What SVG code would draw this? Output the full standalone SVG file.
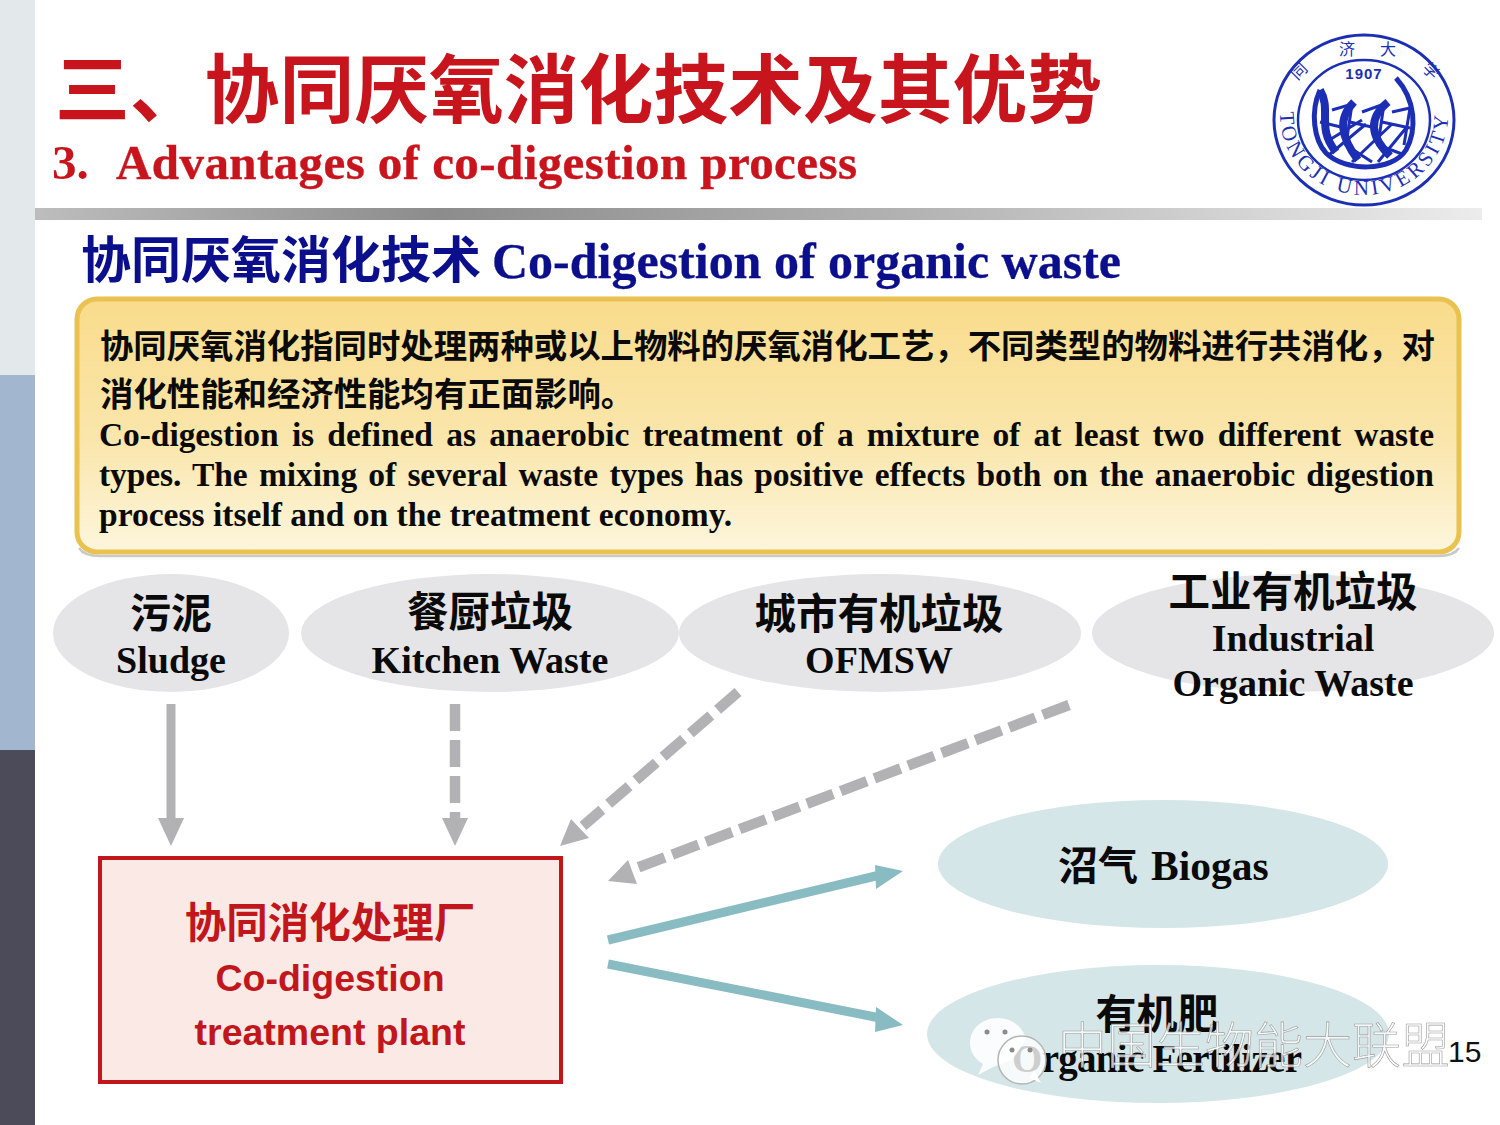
<svg xmlns="http://www.w3.org/2000/svg" xmlns:xlink="http://www.w3.org/1999/xlink" width="1500" height="1125" viewBox="0 0 1500 1125">
<style>
.zh{font-family:"Noto Sans CJK SC","Liberation Sans",sans-serif;font-weight:700}
.en{font-family:"Liberation Serif","Noto Sans CJK SC",serif;font-weight:700}
.sa{font-family:"Liberation Sans","Noto Sans CJK SC",sans-serif;font-weight:700}
.k{fill:#0a0a0a}
.m{text-anchor:middle}
.body{font-size:33.4px}
.ben{font-size:33.5px}
.lab{font-size:38px}
.gd{fill:none;stroke:#b2b1b4;stroke-width:10.5}
.gh{fill:#b2b1b4}
.tl{fill:none;stroke:#88bcc2;stroke-width:9}
.th{fill:#88bcc2}
.logo{fill:none;stroke:#1c2fb4}
.lt{font-family:"Liberation Serif",serif;fill:#1c2fb4;font-size:21px;letter-spacing:3.4px}
</style>
<defs>
<linearGradient id="bar" x1="0" x2="1" y1="0" y2="0"><stop offset="0" stop-color="#bdbdbd"/><stop offset="0.28" stop-color="#8c8c8c"/><stop offset="0.6" stop-color="#b2b2b2"/><stop offset="1" stop-color="#ececec"/></linearGradient>
<linearGradient id="box" x1="0" x2="0" y1="0" y2="1"><stop offset="0" stop-color="#f9dc8c"/><stop offset="0.55" stop-color="#fae6ab"/><stop offset="1" stop-color="#fdf6dd"/></linearGradient>
<path id="arc" d="M1280 115A84 80 0 0 0 1448 115"/>
</defs>
<rect width="1500" height="1125" fill="#fff"/>
<g id="sidebar">
<rect x="0" y="0" width="35" height="375" fill="#e3e8eb"/>
<rect x="0" y="375" width="35" height="375" fill="#a3b6d0"/>
<rect x="0" y="750" width="35" height="375" fill="#4b4b59"/>
</g>
<g id="header">
<text class="zh" x="55" y="117" font-size="74.8" fill="#c8151d">三、协同厌氧消化技术及其优势</text>
<text class="en" x="52" y="179" font-size="49" fill="#c8151d">3.</text>
<text class="en" x="116" y="179" font-size="49" fill="#c8151d" stroke="#c8151d" stroke-width=".4" textLength="741" lengthAdjust="spacing">Advantages of co-digestion process</text>
<rect x="35" y="208" width="1447" height="12" fill="url(#bar)"/>
<text class="zh" x="81" y="278" font-size="50" fill="#0b0f8c">协同厌氧消化技术</text>
<text class="en" x="492" y="278" font-size="50" fill="#0b0f8c" stroke="#0b0f8c" stroke-width=".3" textLength="629" lengthAdjust="spacing">Co-digestion of organic waste</text>
</g>
<g id="logo">
<ellipse class="logo" cx="1364" cy="120" rx="90" ry="85" stroke-width="3"/>
<ellipse class="logo" cx="1364" cy="120" rx="66" ry="60" stroke-width="2.5"/>
<text x="1364" y="79" text-anchor="middle" fill="#1c2fb4" font-size="15" font-weight="700" font-family="'Liberation Sans',sans-serif" letter-spacing="1">1907</text>
<text class="lt"><textPath xlink:href="#arc" startOffset="50%" text-anchor="middle">TONGJI UNIVERSITY</textPath></text>
<path d="M1320 90C1310 112 1314 140 1326 153C1345 172 1392 172 1406 150C1417 130 1416 100 1396 78" fill="none" stroke="#1c2fb4" stroke-width="5"/>
<path d="M1320 90C1332 110 1316 128 1336 152M1354 102C1338 118 1340 136 1358 160M1388 102C1368 118 1370 136 1390 156" fill="none" stroke="#1c2fb4" stroke-width="8"/>
<path d="M1332 110L1352 104L1346 145L1372 162M1362 112L1384 104L1378 145L1402 154M1392 112L1410 108L1404 145M1326 142L1362 120M1330 154L1366 124M1352 162L1392 124M1378 162L1406 128M1320 122L1345 128M1350 122L1376 128M1382 122L1410 128" fill="none" stroke="#1c2fb4" stroke-width="3"/>
<g fill="#1c2fb4" font-size="16" font-family="'Noto Sans CJK TC',sans-serif" text-anchor="middle"><text x="1303" y="75" transform="rotate(-45 1303 75)">同</text><text x="1347" y="55">济</text><text x="1388" y="55">大</text><text x="1427" y="75" transform="rotate(45 1427 75)">学</text></g>
</g>
<g id="definition">
<rect x="77" y="299" width="1382" height="253" rx="20" fill="url(#box)" stroke="#e9c250" stroke-width="5"/>
<path d="M79 548Q84 556 100 556H1438Q1454 556 1459 548" fill="none" stroke="#c9c9c9" stroke-width="2.5"/>
<text class="zh k body" x="100" y="358" textLength="1335" lengthAdjust="spacing">协同厌氧消化指同时处理两种或以上物料的厌氧消化工艺&#xFF0C;不同类型的物料进行共消化&#xFF0C;对</text>
<text class="zh k body" x="100" y="406">消化性能和经济性能均有正面影响。</text>
<text class="en k ben" x="99" y="446" textLength="1335" lengthAdjust="spacing" style="word-spacing:5px">Co-digestion is defined as anaerobic treatment of a mixture of at least two different waste</text>
<text class="en k ben" x="99" y="486" textLength="1335" lengthAdjust="spacing" style="word-spacing:3px">types. The mixing of several waste types has positive effects both on the anaerobic digestion</text>
<text class="en k ben" x="99" y="526" textLength="633" lengthAdjust="spacing">process itself and on the treatment economy.</text>
</g>
<g id="sludge">
<ellipse cx="171" cy="633" rx="118" ry="59" fill="#e5e5e7"/>
<text class="zh k m" x="171" y="628" font-size="41">污泥</text>
<text class="en k m lab" x="171" y="673">Sludge</text>
</g>
<g id="kitchen">
<ellipse cx="490" cy="633" rx="189" ry="59" fill="#e5e5e7"/>
<text class="zh k m" x="490" y="627" font-size="41.5">餐厨垃圾</text>
<text class="en k m lab" x="490" y="673">Kitchen Waste</text>
</g>
<g id="ofmsw">
<ellipse cx="880" cy="633" rx="201" ry="59" fill="#e5e5e7"/>
<text class="zh k m" x="879" y="629" font-size="41.5">城市有机垃圾</text>
<text class="en k m lab" x="879" y="673">OFMSW</text>
</g>
<g id="industrial">
<ellipse cx="1293" cy="633" rx="201" ry="59" fill="#e5e5e7"/>
<text class="zh k m" x="1293" y="607" font-size="41.5">工业有机垃圾</text>
<text class="en k m lab" x="1293" y="651">Industrial</text>
<text class="en k m lab" x="1293" y="696">Organic Waste</text>
</g>
<g id="plant">
<rect x="100" y="858" width="461" height="224" fill="#fbe9e6" stroke="#c1161c" stroke-width="4"/>
<text class="zh m" x="330" y="938" font-size="41.5" fill="#c1161c">协同消化处理厂</text>
<text class="sa m" x="330" y="991" font-size="37.5" fill="#c1161c">Co-digestion</text>
<text class="sa m" x="330" y="1045" font-size="37.5" fill="#c1161c">treatment plant</text>
</g>
<g id="biogas">
<ellipse cx="1163" cy="864" rx="225" ry="64" fill="#d5e6e8"/>
<text class="zh k" x="1058" y="880" font-size="40">沼气</text>
<text class="en k" x="1151" y="880" font-size="41.5">Biogas</text>
</g>
<g id="fertilizer">
<ellipse cx="1158" cy="1034" rx="231" ry="69" fill="#d5e6e8"/>
<text class="zh k m" x="1157" y="1029" font-size="41">有机肥</text>
<text class="en k m" x="1157" y="1072" font-size="39" textLength="290" lengthAdjust="spacing">Organic Fertilizer</text>
</g>
<g id="connectors">
<path d="M171 704V822" fill="none" stroke="#b2b1b4" stroke-width="9"/>
<path class="gh" d="M158 818H184L171 846Z"/>
<path class="gd" stroke-dasharray="27 9" d="M455 704V822"/>
<path class="gh" d="M442 818H468L455 846Z"/>
<path class="gd" stroke-dasharray="27 9" d="M738 692L583 826"/>
<path class="gh" d="M560 846L571 819L589 838Z"/>
<path class="gd" stroke-dasharray="28 8" d="M1069 705L634 869"/>
<path class="gh" d="M608 881L628 860L637 884Z"/>
<path class="tl" d="M608 940L880 875"/>
<path class="th" d="M903 871L876 889L875 865Z"/>
<path class="tl" d="M608 964L880 1018"/>
<path class="th" d="M903 1025L876 1007L875 1032Z"/>
</g>
<g id="watermark">
<path d="M998 1018C982 1018 970 1029 970 1043C970 1052 975 1059 983 1064L978 1075L993 1067L1012 1060L1026 1040C1024 1028 1012 1018 998 1018Z" fill="#fff" fill-opacity=".88"/>
<circle cx="1022" cy="1060" r="24" fill="#fff" fill-opacity=".8" stroke="#b5b5b5" stroke-width="1.5"/>
<path d="M1030 1078L1041 1083L1034 1070Z" fill="#fff"/>
<g fill="#8b8b8b"><circle cx="987" cy="1032" r="2.5"/><circle cx="1005" cy="1032" r="2.5"/><circle cx="1012" cy="1050" r="2.5"/><circle cx="1030" cy="1050" r="2.5"/></g>
<text class="m" x="1254" y="1063" font-size="49" fill="#fff" fill-opacity=".75" stroke="#9a9a9a" stroke-width=".6" font-family="'Noto Sans CJK SC',sans-serif" font-weight="300">中国生物能大联盟</text>
</g>
<text id="page" x="1448" y="1062" font-size="30" fill="#111" font-family="'Liberation Sans',sans-serif">15</text>
</svg>
